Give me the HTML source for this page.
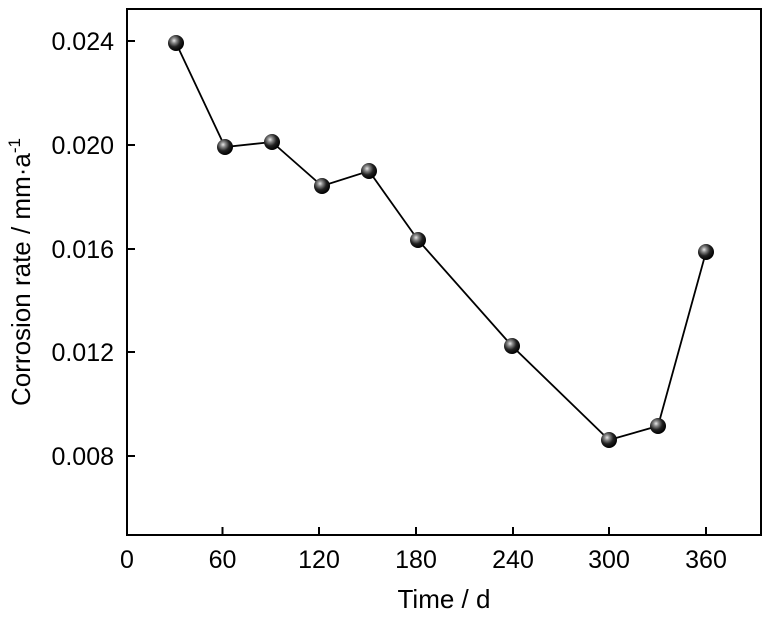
<!DOCTYPE html>
<html><head><meta charset="utf-8"><style>html,body{margin:0;padding:0;background:#fff}svg{display:block}</style></head>
<body>
<svg width="768" height="617" viewBox="0 0 768 617" xmlns="http://www.w3.org/2000/svg" font-family="Liberation Sans, Arial, sans-serif">
<defs>
<radialGradient id="g" cx="0.38" cy="0.35" r="0.65">
<stop offset="0" stop-color="#e8e8e8"/><stop offset="0.25" stop-color="#888"/><stop offset="0.6" stop-color="#222"/><stop offset="1" stop-color="#000"/>
</radialGradient>
</defs>
<rect x="127" y="9" width="634" height="526" fill="none" stroke="#000" stroke-width="2"/>
<g stroke="#000" stroke-width="2">
<line x1="222.5" y1="535" x2="222.5" y2="527"/>
<line x1="319" y1="535" x2="319" y2="527"/>
<line x1="416" y1="535" x2="416" y2="527"/>
<line x1="513" y1="535" x2="513" y2="527"/>
<line x1="609" y1="535" x2="609" y2="527"/>
<line x1="706" y1="535" x2="706" y2="527"/>
<line x1="127" y1="41" x2="135" y2="41"/>
<line x1="127" y1="145" x2="135" y2="145"/>
<line x1="127" y1="249" x2="135" y2="249"/>
<line x1="127" y1="352" x2="135" y2="352"/>
<line x1="127" y1="456" x2="135" y2="456"/>
</g>
<g font-size="25" fill="#000" text-anchor="middle">
<text x="127" y="568">0</text><text x="222.5" y="568">60</text><text x="319" y="568">120</text><text x="416" y="568">180</text><text x="513" y="568">240</text><text x="609" y="568">300</text><text x="706" y="568">360</text>
</g>
<g font-size="25" fill="#000" text-anchor="end">
<text x="114" y="50">0.024</text><text x="114" y="154">0.020</text><text x="114" y="258">0.016</text><text x="114" y="361">0.012</text><text x="114" y="465">0.008</text>
</g>
<text x="444" y="608" font-size="26" text-anchor="middle">Time / d</text>
<text transform="translate(30,272) rotate(-90)" font-size="26" text-anchor="middle">Corrosion rate / mm·a<tspan dy="-10" font-size="17">-1</tspan></text>
<polyline fill="none" stroke="#000" stroke-width="1.8" points="176,43 225,147 272,142 322,186 369,171 418,240 512,346 609,440 658,426 706,252"/>
<g fill="url(#g)">
<circle cx="176" cy="43" r="8"/><circle cx="225" cy="147" r="8"/><circle cx="272" cy="142" r="8"/><circle cx="322" cy="186" r="8"/><circle cx="369" cy="171" r="8"/><circle cx="418" cy="240" r="8"/><circle cx="512" cy="346" r="8"/><circle cx="609" cy="440" r="8"/><circle cx="658" cy="426" r="8"/><circle cx="706" cy="252" r="8"/>
</g>
</svg>
</body></html>
